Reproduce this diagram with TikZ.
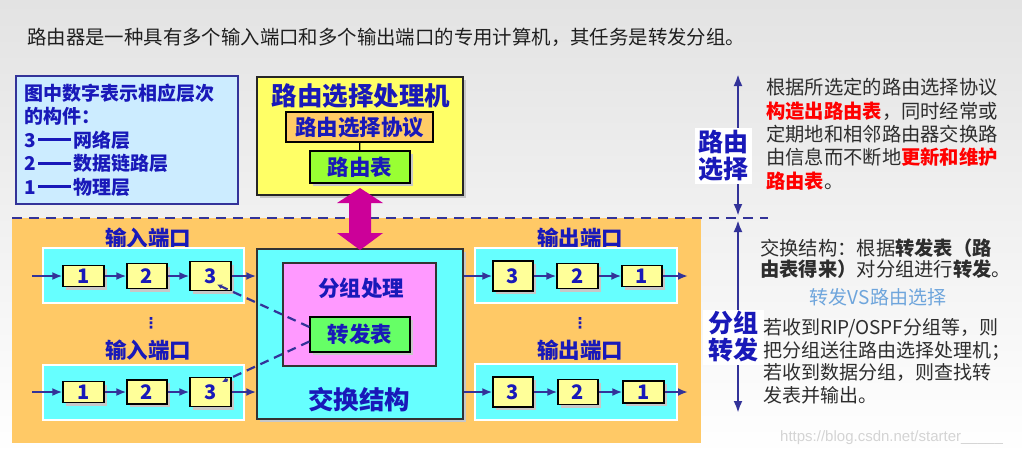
\documentclass[tikz,border=0pt]{standalone}
\usepackage{fontspec}
\setmainfont{Noto Sans CJK SC}
\newfontfamily\dejavu{DejaVu Sans}
\newfontfamily\libsans{Liberation Sans}
\usetikzlibrary{arrows.meta,shadows,calc}
\definecolor{navy}{RGB}{51,51,153}
\definecolor{lblue}{RGB}{25,25,185}
\definecolor{orangebg}{RGB}{255,201,102}
\definecolor{legfill}{RGB}{204,236,255}
\definecolor{yfill}{RGB}{255,255,102}
\definecolor{ofill}{RGB}{255,204,102}
\definecolor{gfillA}{RGB}{153,255,51}
\definecolor{gfillB}{RGB}{102,255,102}
\definecolor{cyanfill}{RGB}{102,255,255}
\definecolor{pinkfill}{RGB}{255,153,255}
\definecolor{numfill}{RGB}{255,255,153}
\definecolor{magarrow}{RGB}{204,0,153}
\definecolor{bodytext}{RGB}{45,45,45}
\definecolor{vsblue}{RGB}{110,165,220}
\definecolor{redtext}{RGB}{255,0,0}
\newcommand{\redb}[1]{{\bfseries\color{redtext}#1}}
\newcommand{\legdash}{\hspace{2pt}\rule[6.2pt]{33pt}{2.6pt}\hspace{2pt}}
\begin{document}
\begin{tikzpicture}[x=1pt,y=-1pt,
  shadowed/.style={drop shadow={shadow xshift=3pt,shadow yshift=-3pt,fill=black!22,opacity=1}},
  legendbox/.style={draw=navy,line width=2.5pt,fill=legfill,inner xsep=8pt,inner ysep=0pt,
    text width=205pt,align=left,text=lblue,font=\bfseries\fontsize{19}{23.5}\selectfont},
  ybox/.style={draw=black!85,line width=1.5pt,fill=yfill,shadowed},
  obox/.style={draw=black,line width=1.3pt,fill=ofill,inner sep=0pt,text=lblue,font=\bfseries\fontsize{21.5}{21.5}\selectfont},
  gboxA/.style={draw=black,line width=1.3pt,fill=gfillA,inner sep=0pt,shadowed,text=lblue,font=\bfseries\fontsize{21.5}{21.5}\selectfont},
  gboxB/.style={draw=black,line width=1.3pt,fill=gfillB,inner sep=0pt,shadowed,text=lblue,font=\bfseries\fontsize{21.5}{21.5}\selectfont},
  fabricbox/.style={draw=black!80,line width=1.5pt,fill=cyanfill,shadowed},
  pinkbox/.style={draw=black!80,line width=1.3pt,fill=pinkfill},
  portbox/.style={draw=black,line width=0.8pt,double=white,double distance=1.2pt,fill=cyanfill},
  numbox/.style={draw=black,line width=1.3pt,fill=numfill,inner sep=0pt,shadowed,text=lblue,font=\bfseries\fontsize{20}{20}\selectfont},
  lbl/.style={text=lblue,inner sep=0pt,font=\bfseries\fontsize{21.5}{21.5}\selectfont},
  biglbl/.style={text=lblue,inner sep=0pt,font=\bfseries\fontsize{25.5}{25.5}\selectfont},
  sidelbl/.style={fill=white,inner sep=0pt,align=center,text=lblue,font=\bfseries\fontsize{25}{27}\selectfont},
  dotsl/.style={text=lblue,inner sep=0pt,font=\dejavu\bfseries\fontsize{15}{15}\selectfont},
  flow/.style={draw=navy,line width=2pt,-{Latex[length=10pt,width=8pt]}},
  dconn/.style={draw=navy,line width=2.2pt,dash pattern=on 9pt off 6pt,-{Latex[length=5pt,width=5pt]}},
  vconn/.style={draw=navy,line width=2.5pt,{Latex[length=12pt,width=9pt]}-{Latex[length=12pt,width=9pt]}},
  bodyblk/.style={anchor=north west,inner sep=0pt,align=left,text=bodytext}
]
\useasboundingbox (0,0) rectangle (1022,456);
% background
\shade[top color=black!11,bottom color=white] (0,0) rectangle (1022,456);
\fill[orangebg] (12,218) rectangle (701,443);
\draw[navy,line width=2.5pt,dash pattern=on 10pt off 7pt] (12,218) -- (768,218);

% heading
\node[anchor=west,inner sep=0pt,text=black!88,font=\fontsize{19.4}{19.4}\selectfont] (head) at (27,37)
  {路由器是一种具有多个输入端口和多个输出端口的专用计算机，其任务是转发分组。};

% legend
\node[legendbox,minimum width=222pt,minimum height=128pt] (legend) at (127,140)
  {图中数字表示相应层次\\的构件：\\3\legdash 网络层\\2\legdash 数据链路层\\1\legdash 物理层};

% routing processor
\node[ybox,minimum width=206pt,minimum height=118pt] (rp) at (360,136) {};
\node[biglbl] (rptitle) at (361,96) {路由选择处理机};
\node[obox,minimum width=147pt,minimum height=30pt] (proto) at (359.5,127) {路由选择协议};
\node[gboxA,minimum width=100pt,minimum height=32pt] (rtab) at (360,167) {路由表};
\draw[black,line width=1.3pt] (proto) -- (rtab);

% switch fabric
\node[fabricbox,minimum width=206pt,minimum height=170pt] (fab) at (360,334) {};
\node[pinkbox,minimum width=153pt,minimum height=103pt] (proc) at (359.5,314.5) {};
\node[lbl] (proctxt) at (361,288) {分组处理};
\node[gboxB,minimum width=100pt,minimum height=35pt] (fwd) at (360,334.5) {转发表};
\node[biglbl] (fabtxt) at (359,400) {交换结构};

% magenta double arrow
\fill[magarrow] (360,188) -- (383,203) -- (371,203) -- (371,233) -- (383,233) -- (360,250)
  -- (337,233) -- (349,233) -- (349,203) -- (337,203) -- cycle;

% input ports
\node[lbl] (inAlbl) at (148,238) {输入端口};
\node[portbox,minimum width=201pt,minimum height=55pt] (inA) at (143.5,275.5) {};
\node[numbox,minimum width=41pt,minimum height=21pt] (a1) at (83.5,276) {1};
\node[numbox,minimum width=40pt,minimum height=25pt] (a2) at (147,276) {2};
\node[numbox,minimum width=41pt,minimum height=29pt] (a3) at (210.5,276) {3};
\coordinate (ain) at (32,276);
\draw[flow] (ain) -- (a1);
\draw[flow] (a1) -- (a2);
\draw[flow] (a2) -- (a3);
\draw[flow] (a3.east) -- (a3.east -| fab.west);

\node[dotsl] (dotsA) at (151,323) {⋮};

\node[lbl] (inBlbl) at (148,350) {输入端口};
\node[portbox,minimum width=201pt,minimum height=55pt] (inB) at (143.5,392.5) {};
\node[numbox,minimum width=41pt,minimum height=21pt] (b1) at (83.5,392) {1};
\node[numbox,minimum width=40pt,minimum height=24pt] (b2) at (147,392) {2};
\node[numbox,minimum width=41pt,minimum height=29pt] (b3) at (210.5,392) {3};
\coordinate (bin) at (32,392);
\draw[flow] (bin) -- (b1);
\draw[flow] (b1) -- (b2);
\draw[flow] (b2) -- (b3);
\draw[flow] (b3.east) -- (b3.east -| fab.west);

% output ports
\node[lbl] (outAlbl) at (580,238) {输出端口};
\node[portbox,minimum width=202pt,minimum height=55pt] (outA) at (576,275.5) {};
\node[numbox,minimum width=40pt,minimum height=30pt] (c3) at (513,276) {3};
\node[numbox,minimum width=41pt,minimum height=25pt] (c2) at (577.5,276) {2};
\node[numbox,minimum width=40pt,minimum height=21pt] (c1) at (642,276) {1};
\coordinate (cout) at (688,276);
\draw[flow] (fab.east |- c3.west) -- (c3.west);
\draw[flow] (c3) -- (c2);
\draw[flow] (c2) -- (c1);
\draw[flow] (c1) -- (cout);

\node[dotsl] (dotsB) at (580,323) {⋮};

\node[lbl] (outBlbl) at (580,350) {输出端口};
\node[portbox,minimum width=202pt,minimum height=56pt] (outB) at (576,392) {};
\node[numbox,minimum width=40pt,minimum height=30pt] (d3) at (513,392) {3};
\node[numbox,minimum width=40pt,minimum height=25pt] (d2) at (578,392) {2};
\node[numbox,minimum width=41pt,minimum height=22pt] (d1) at (643.5,392) {1};
\coordinate (dout) at (688,392);
\draw[flow] (fab.east |- d3.west) -- (d3.west);
\draw[flow] (d3) -- (d2);
\draw[flow] (d2) -- (d1);
\draw[flow] (d1) -- (dout);

% dashed lookups
\draw[dconn] ([yshift=7.5pt]fwd.west) -- ([xshift=6.5pt,yshift=-8.5pt]a3.center);
\draw[dconn] ([yshift=-7pt]fwd.west) -- ([xshift=11.5pt,yshift=10pt]b3.center);

% right side arrows and labels
\coordinate (r1t) at (738,74);
\coordinate (r1b) at (738,216);
\coordinate (r2t) at (738,220);
\coordinate (r2b) at (738,413);
\draw[vconn] (r1t) -- (r1b);
\draw[vconn] (r2t) -- (r2b);
\node[sidelbl,minimum width=57pt,minimum height=56pt] (rsel) at (723.5,156) {路由\\选择};
\node[sidelbl,minimum width=61pt,minimum height=55pt] (pfwd) at (733,337) {分组\\转发};

% right texts
\node[bodyblk,font=\fontsize{19.3}{23.3}\selectfont] (txt1) at (766,78.3)
  {根据所选定的路由选择协议\\\redb{构造出路由表}，同时经常或\\定期地和相邻路由器交换路\\由信息而不断地\redb{更新和维护}\\\redb{路由表}。};
\node[bodyblk,font=\fontsize{19.3}{21.6}\selectfont] (txt2) at (760,238.3)
  {交换结构：根据\textbf{转发表（路}\\\textbf{由表得来）}对分组进行\textbf{转发}。};
\node[inner sep=0pt,text=vsblue,font=\fontsize{19}{19}\selectfont] (vs) at (878,297) {转发VS路由选择};
\node[bodyblk,font=\fontsize{19}{22.7}\selectfont] (txt3) at (763,318.3)
  {若收到RIP/OSPF分组等，则\\把分组送往路由选择处理机；\\若收到数据分组，则查找转\\发表并输出。};

% watermark
\node[anchor=west,inner sep=0pt,text=black!17,font=\libsans\fontsize{15}{15}\selectfont] (wm) at (780,438)
  {https://blog.csdn.net/starter\_\_\_\_\_};
\end{tikzpicture}
\end{document}
